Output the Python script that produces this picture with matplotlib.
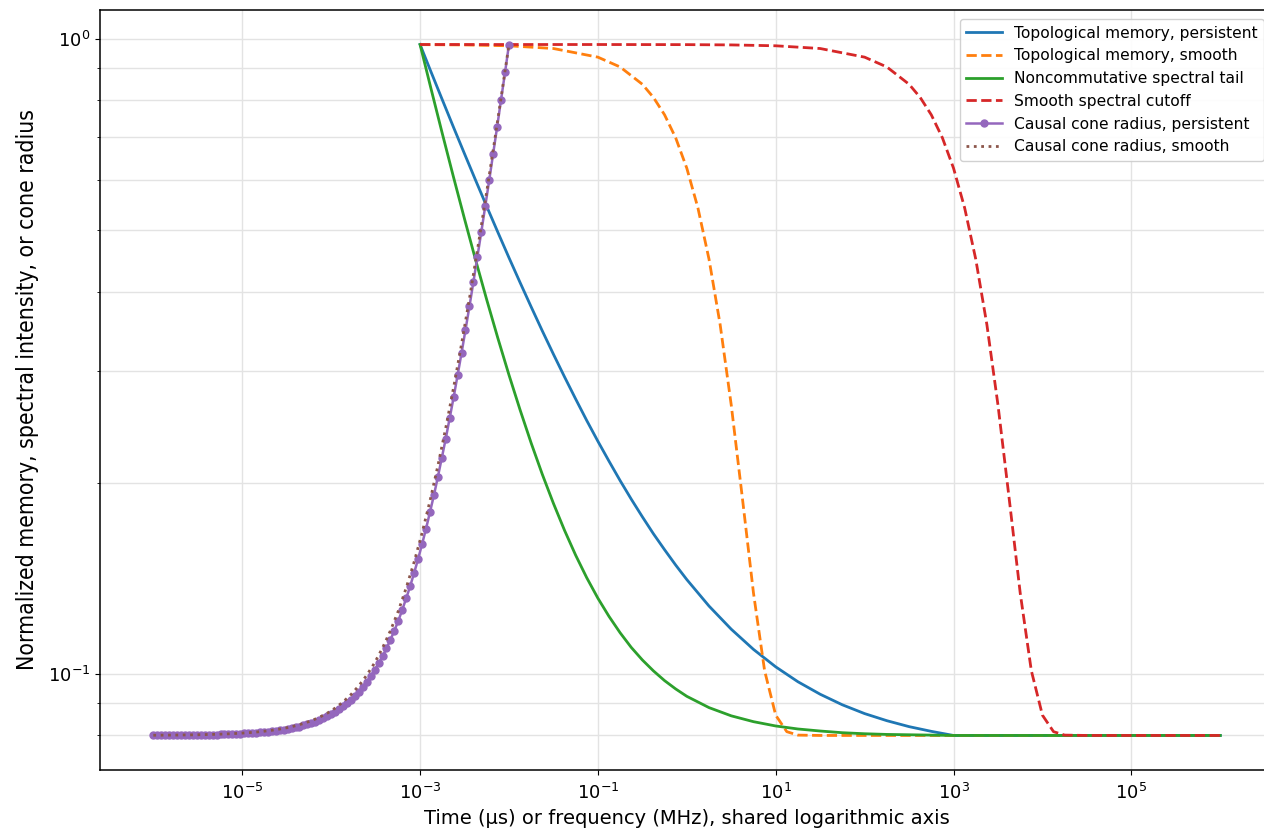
"""Shared log-axis chart: memory kernels, spectral tails and causal cone radius."""

import matplotlib
matplotlib.use("Agg")
import matplotlib.pyplot as plt
import numpy as np
from matplotlib.ticker import FixedLocator, NullFormatter, NullLocator, LogLocator

# --- data (log10 of time / frequency, normalised values) ---
memory_log_t = [-3.0, -2.875, -2.75, -2.625, -2.5, -2.375, -2.25, -2.125, -2.0, -1.875,
                -1.75, -1.625, -1.5, -1.375, -1.25, -1.125, -1.0, -0.875, -0.75, -0.625,
                -0.5, -0.375, -0.25, -0.125, 0.0, 0.25, 0.5, 0.75, 1.0, 1.25, 1.5, 1.75,
                2.0, 2.25, 2.5, 2.75, 3.0, 4.0, 5.0, 6.0]
topo_persistent = [0.98, 0.8861, 0.8022, 0.7267, 0.6594, 0.5989, 0.5447, 0.4961, 0.4524,
                   0.4134, 0.3784, 0.3469, 0.3188, 0.2936, 0.2710, 0.2506, 0.2325, 0.2163,
                   0.2016, 0.1885, 0.1768, 0.1662, 0.1569, 0.1484, 0.1408, 0.1279, 0.1176,
                   0.1093, 0.1026, 0.0972, 0.0929, 0.0894, 0.0866, 0.0844, 0.0826, 0.0812,
                   0.0800, 0.0800, 0.0800, 0.0800]
nc_tail = [0.98, 0.8329, 0.7097, 0.6068, 0.5207, 0.4486, 0.3883, 0.3379, 0.2957, 0.2605,
           0.2309, 0.2062, 0.1856, 0.1683, 0.1538, 0.1417, 0.1316, 0.1232, 0.1161, 0.1101,
           0.1052, 0.1011, 0.0976, 0.0947, 0.0922, 0.0885, 0.0859, 0.0841, 0.0828, 0.0819,
           0.0813, 0.0808, 0.0805, 0.0803, 0.0802, 0.0801, 0.0800, 0.0800, 0.0800, 0.0800]

smooth_log_t = [-3.0, -2.5, -2.0, -1.5, -1.0, -0.75, -0.5, -0.375, -0.25, -0.125, 0.0, 0.125,
                0.25, 0.375, 0.5, 0.625, 0.75, 0.875, 1.0, 1.125, 1.25, 1.5, 2.0, 3.0, 4.0,
                5.0, 6.0]
topo_smooth = [0.9796, 0.9786, 0.9755, 0.9659, 0.9361, 0.9034, 0.8485, 0.8089, 0.7595,
               0.6986, 0.6259, 0.542, 0.4499, 0.355, 0.2651, 0.1893, 0.1341, 0.1012, 0.0861,
               0.0811, 0.0801, 0.08, 0.08, 0.08, 0.08, 0.08, 0.08]

cutoff_log_f = [-3.0, -2.0, -1.0, 0.0, 0.5, 1.0, 1.5, 2.0, 2.25, 2.5, 2.625, 2.75, 2.875,
                3.0, 3.125, 3.25, 3.375, 3.5, 3.625, 3.75, 3.875, 4.0, 4.125, 4.25, 4.5,
                5.0, 6.0]
spectral_cutoff = [0.98, 0.98, 0.98, 0.9796, 0.9786, 0.9755, 0.9659, 0.9361, 0.9034, 0.8485,
                   0.8089, 0.7595, 0.6986, 0.6259, 0.542, 0.4499, 0.355, 0.2651, 0.1893,
                   0.1341, 0.1012, 0.0861, 0.0811, 0.0801, 0.08, 0.08, 0.08]

cone_log_t = [
    -6.0, -5.956, -5.911, -5.867, -5.822, -5.778, -5.733, -5.689, -5.644,
    -5.6, -5.556, -5.511, -5.467, -5.422, -5.378, -5.333, -5.289, -5.244,
    -5.2, -5.156, -5.111, -5.067, -5.022, -4.978, -4.933, -4.889, -4.844,
    -4.8, -4.756, -4.711, -4.667, -4.622, -4.578, -4.533, -4.489, -4.444,
    -4.4, -4.356, -4.311, -4.267, -4.222, -4.178, -4.133, -4.089, -4.044,
    -4.0, -3.956, -3.911, -3.867, -3.822, -3.778, -3.733, -3.689, -3.644,
    -3.6, -3.556, -3.511, -3.467, -3.422, -3.378, -3.333, -3.289, -3.244,
    -3.2, -3.156, -3.111, -3.067, -3.022, -2.978, -2.933, -2.889, -2.844,
    -2.8, -2.756, -2.711, -2.667, -2.622, -2.578, -2.533, -2.489, -2.444,
    -2.4, -2.356, -2.311, -2.267, -2.222, -2.178, -2.133, -2.089, -2.044,
    -2.0,
]
cone_persistent = [
    0.08005, 0.08005, 0.08006, 0.08006, 0.08007, 0.08008, 0.08009, 0.0801, 0.08011,
    0.08012, 0.08014, 0.08015, 0.08017, 0.08019, 0.08021, 0.08023, 0.08026, 0.08029,
    0.08033, 0.08036, 0.08041, 0.08045, 0.08051, 0.08057, 0.08063, 0.08071, 0.08079,
    0.08088, 0.08098, 0.0811, 0.08122, 0.08137, 0.08152, 0.0817, 0.0819, 0.08212,
    0.08237, 0.08264, 0.08295, 0.08329, 0.08367, 0.0841, 0.08458, 0.08511, 0.08571,
    0.08637, 0.08711, 0.08794, 0.08886, 0.08989, 0.09104, 0.09233, 0.09376, 0.09536,
    0.09715, 0.09914, 0.1014, 0.1039, 0.1066, 0.1097, 0.1132, 0.117, 0.1213,
    0.1262, 0.1315, 0.1375, 0.1442, 0.1517, 0.16, 0.1693, 0.1797, 0.1912,
    0.2042, 0.2187, 0.2348, 0.2528, 0.2729, 0.2954, 0.3204, 0.3483, 0.3795,
    0.4144, 0.4532, 0.4966, 0.5451, 0.5992, 0.6596, 0.727, 0.8023, 0.8862,
    0.98,
]

cone_smooth_log_t = [
    -6.0, -5.911, -5.822, -5.733, -5.644, -5.556, -5.467, -5.378, -5.289, -5.2,
    -5.111, -5.022, -4.933, -4.844, -4.756, -4.667, -4.578, -4.489, -4.4, -4.311,
    -4.222, -4.133, -4.044, -3.956, -3.867, -3.778, -3.689, -3.6, -3.511, -3.422,
    -3.333, -3.244, -3.156, -3.067, -2.978, -2.889, -2.8, -2.711, -2.622, -2.533,
    -2.444, -2.356, -2.267, -2.178, -2.089, -2.0,
]
cone_smooth = [
    0.08006, 0.08008, 0.0801, 0.08012, 0.08015, 0.08018, 0.08022, 0.08028, 0.08034, 0.08042,
    0.08052, 0.08065, 0.0808, 0.08099, 0.08123, 0.08152, 0.08188, 0.08232, 0.08287, 0.08355,
    0.0844, 0.08544, 0.08673, 0.08833, 0.09031, 0.09275, 0.09578, 0.09951, 0.1041, 0.1099,
    0.117, 0.1257, 0.1366, 0.15, 0.1666, 0.1871, 0.2126, 0.244, 0.2829, 0.331,
    0.3905, 0.4642, 0.5553, 0.668, 0.8076, 0.98,
]

x_tick_exponents = [-5, -3, -1, 1, 3, 5]


def to_linear(log_values):
    return 10.0 ** np.asarray(log_values)


def main():
    plt.rcParams["font.family"] = ["DejaVu Sans"]
    plt.rcParams["font.size"] = 12

    fig = plt.figure(figsize=(12.64, 8.31), dpi=100)
    ax = fig.add_axes([0.0791, 0.0734, 0.9285, 0.9146])

    ax.plot(to_linear(memory_log_t), topo_persistent, color="#1f77b4", linewidth=2,
            label="Topological memory, persistent")
    ax.plot(to_linear(smooth_log_t), topo_smooth, color="#ff7f0e", linewidth=2,
            linestyle="--", label="Topological memory, smooth")
    ax.plot(to_linear(memory_log_t), nc_tail, color="#2ca02c", linewidth=2,
            label="Noncommutative spectral tail")
    ax.plot(to_linear(cutoff_log_f), spectral_cutoff, color="#d62728", linewidth=2,
            linestyle="--", label="Smooth spectral cutoff")
    ax.plot(to_linear(cone_log_t), cone_persistent, color="#9467bd", linewidth=1.8,
            marker="o", markersize=5, label="Causal cone radius, persistent")
    ax.plot(to_linear(cone_smooth_log_t), cone_smooth, color="#8c564b", linewidth=2,
            linestyle=":", label="Causal cone radius, smooth")

    ax.set_xscale("log")
    ax.set_yscale("log")

    ax.xaxis.set_major_locator(FixedLocator([10.0 ** e for e in x_tick_exponents]))
    ax.xaxis.set_minor_locator(NullLocator())
    ax.yaxis.set_major_locator(LogLocator(base=10))
    ax.yaxis.set_minor_locator(LogLocator(base=10, subs=np.arange(2, 10)))
    ax.yaxis.set_minor_formatter(NullFormatter())

    ax.grid(True, which="major", color="#e3e3e3", linewidth=1.0)
    ax.yaxis.grid(True, which="minor", color="#e3e3e3", linewidth=1.0)
    ax.set_axisbelow(True)

    ax.tick_params(axis="both", labelsize=13)
    ax.tick_params(axis="x", pad=6)
    ax.set_xlabel("Time (μs) or frequency (MHz), shared logarithmic axis", fontsize=14,
                  labelpad=4)
    ax.set_ylabel("Normalized memory, spectral intensity, or cone radius", fontsize=16.5,
                  fontstretch="condensed", labelpad=6)

    for spine in ax.spines.values():
        spine.set_linewidth(1.1)

    ax.legend(loc="upper right", fontsize=11.2, framealpha=0.9, handlelength=2.3,
              borderaxespad=0.6)

    fig.savefig("out.png", dpi=100)
    plt.close(fig)


if __name__ == "__main__":
    main()
